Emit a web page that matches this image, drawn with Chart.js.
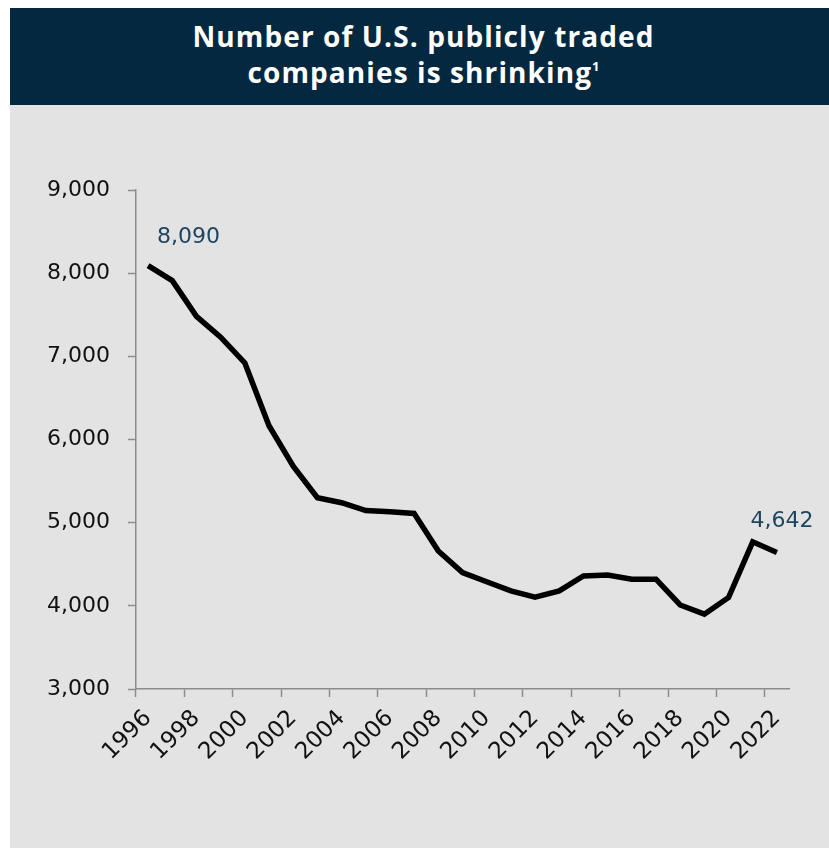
<!DOCTYPE html>
<html>
<head>
<meta charset="utf-8">
<script src="https://cdn.jsdelivr.net/npm/chart.js@4"></script>
<style>
  html, body { margin: 0; padding: 0; background: #fff; }
  .card { position: absolute; left: 10px; top: 8px; width: 819px; height: 840px; background: #e3e3e3; }
  .head {
    height: 97px; background: #04283f; color: #fff;
    font-family: "Open Sans", sans-serif; font-weight: 700; font-size: 28px;
    letter-spacing: 1.1px; line-height: 36px; text-align: center;
    display: flex; align-items: center; justify-content: center;
    padding-left: 8px; box-sizing: border-box; padding-bottom: 5px;
  }
  .head sup { font-size: 13px; line-height: 0; vertical-align: 12px; letter-spacing: 0; }
  .plot { position: relative; width: 819px; height: 743px; }
</style>
</head>
<body>
<div class="card">
  <div class="head"><div>Number of U.S. publicly traded<br>companies is shrinking<sup>1</sup></div></div>
  <div class="plot"><canvas id="chart"></canvas></div>
</div>
<script>
// Datos
const years = ['1996','1997','1998','1999','2000','2001','2002','2003','2004','2005','2006','2007','2008','2009',
  '2010','2011','2012','2013','2014','2015','2016','2017','2018','2019','2020','2021','2022'];
const companies = [8090, 7910, 7480, 7230, 6920, 6165, 5680, 5300, 5240, 5145, 5130, 5110, 4660, 4400,
  4290, 4180, 4105, 4180, 4360, 4370, 4320, 4320, 4010, 3900, 4100, 4770, 4642];
const yTicks = [3000, 4000, 5000, 6000, 7000, 8000, 9000];

const axisGrey = '#8c8c8c';
const labelFont = { family: '"DejaVu Sans", sans-serif', size: 22 };

// etiquetas del primer y último punto
const endLabels = {
  id: 'endLabels',
  afterDatasetsDraw(chart) {
    const pts = chart.getDatasetMeta(0).data;
    const ctx = chart.ctx;
    const first = pts[0], last = pts[pts.length - 1];
    ctx.save();
    ctx.fillStyle = '#1e4560';
    ctx.font = '22px "DejaVu Sans", sans-serif';
    ctx.textBaseline = 'middle';
    ctx.textAlign = 'left';
    ctx.fillText(companies[0].toLocaleString('en-US'), first.x + 9, first.y - 28);
    ctx.textAlign = 'center';
    ctx.fillText(companies[companies.length - 1].toLocaleString('en-US'), last.x + 5, last.y - 31);
    ctx.restore();
  }
};

new Chart(document.getElementById('chart'), {
  type: 'line',
  data: {
    labels: years,
    datasets: [{
      data: companies,
      borderColor: '#000',
      borderWidth: 5.5,
      pointRadius: 0,
      tension: 0,
      fill: false
    }]
  },
  options: {
    responsive: true,
    maintainAspectRatio: false,
    animation: false,
    layout: { padding: { left: 0, right: 40, top: 85, bottom: 0 } },
    plugins: { legend: { display: false }, tooltip: { enabled: false } },
    scales: {
      x: {
        offset: true,
        grid: {
          offset: true,
          drawOnChartArea: false,
          tickLength: 8,
          tickWidth: 1.5,
          // marca solo cada dos años
          tickColor: c => (c.tick && c.index % 2 === 0) ? axisGrey : 'rgba(0,0,0,0)'
        },
        border: { color: axisGrey, width: 1.5 },
        ticks: {
          color: '#111',
          font: { family: labelFont.family, size: 23 },
          minRotation: 45,
          maxRotation: 45,
          autoSkip: false,
          padding: 8,
          callback: (v, i) => i % 2 === 0 ? years[i] : ''
        },
        afterFit: s => { s.height = 159; }
      },
      y: {
        min: yTicks[0],
        max: yTicks[yTicks.length - 1],
        afterBuildTicks: s => { s.ticks = yTicks.map(v => ({ value: v })); },
        grid: { drawOnChartArea: false, tickLength: 8, tickWidth: 1.5, tickColor: axisGrey },
        border: { color: axisGrey, width: 1.5 },
        ticks: {
          color: '#111',
          font: labelFont,
          padding: 18,
          callback: v => v.toLocaleString('en-US')
        },
        afterFit: s => { s.width = 126; }
      }
    }
  },
  plugins: [endLabels]
});
</script>
</body>
</html>
